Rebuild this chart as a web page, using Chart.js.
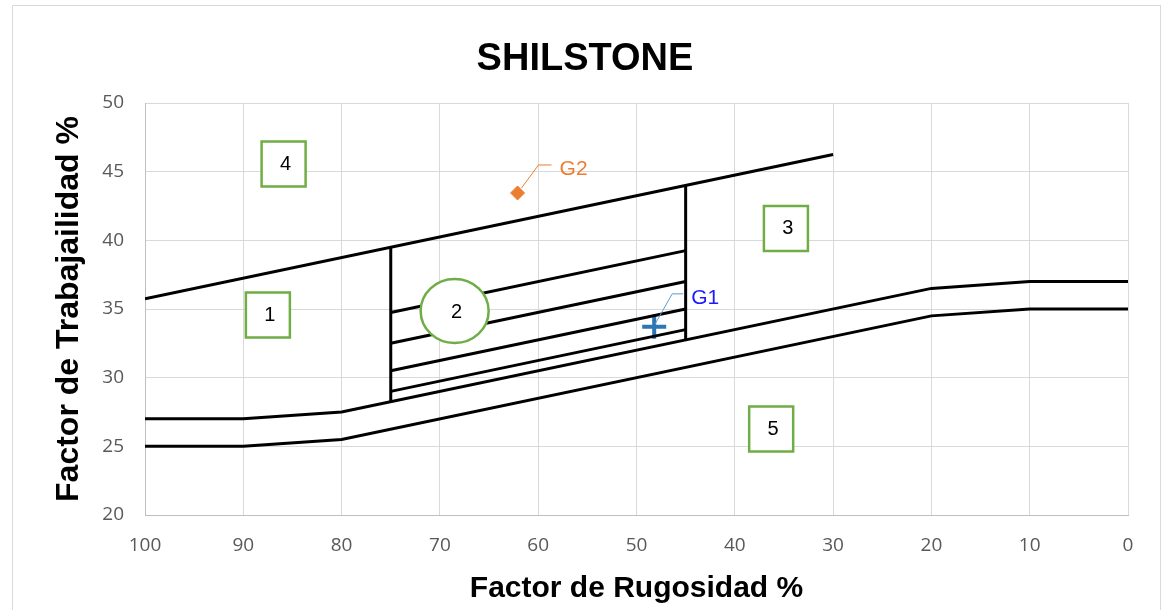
<!DOCTYPE html>
<html>
<head>
<meta charset="utf-8">
<script src="https://cdn.jsdelivr.net/npm/chart.js@4/dist/chart.umd.min.js"></script>
<style>
  html, body { margin: 0; padding: 0; background: #fff; }
  #wrap { position: relative; width: 1162px; height: 610px; overflow: hidden; }
  #frame { position: absolute; left: 12px; top: 5px; width: 1147px; height: 640px; border: 1px solid #d9d9d9; pointer-events: none; }
  canvas { position: absolute; left: 0; top: 0; }
</style>
</head>
<body>
<div id="wrap">
  <canvas id="chart" width="1162" height="610"></canvas>
  <div id="frame"></div>
</div>
<script>
// --- dati ---
const chartTitle = "SHILSTONE";
const xTicks = [100, 90, 80, 70, 60, 50, 40, 30, 20, 10, 0];
const yTicks = [20, 25, 30, 35, 40, 45, 50];

// curve di confine (zona 5 / zona 3)
const curveX = [100, 90, 80, 20, 10, 0];
const upperCurveY = [27, 27, 27.5, 36.5, 37, 37];
const lowerCurveY = [25, 25, 25.5, 34.5, 35, 35];

// retta superiore (limite zona 4)
const topLineX = [100, 30];
const topLineY = [35.75, 46.25];

// zona 2: due verticali e quattro fasce interne
const zoneX = [75, 45];
const divider75Y = [28.25, 39.5];
const divider45Y = [32.75, 44];
const bandStartY = [34.75, 32.5, 30.5, 29];
const bandEndY = [39.25, 37, 35, 33.5];

// punti campione
const sampleNames = ["G1", "G2"];
const sampleX = [48.2, 62.1];
const sampleY = [33.7, 43.45];

// etichette delle zone
const regionNames = ["1", "2", "3", "4", "5"];
const regionX = [87.5, 68.5, 34.8, 85.9, 36.3];
const regionY = [34.6, 34.85, 40.9, 45.6, 26.3];

const toPts = (xs, ys) => xs.map((x, i) => ({ x, y: ys[i] }));

const lineStyle = { showLine: true, borderColor: "#000", borderWidth: 3, pointRadius: 0, tension: 0, fill: false };

const datasets = [
  Object.assign({ data: toPts(curveX, upperCurveY) }, lineStyle),
  Object.assign({ data: toPts(curveX, lowerCurveY) }, lineStyle),
  Object.assign({ data: toPts(topLineX, topLineY) }, lineStyle),
  Object.assign({ data: toPts([zoneX[0], zoneX[0]], divider75Y) }, lineStyle),
  Object.assign({ data: toPts([zoneX[1], zoneX[1]], divider45Y) }, lineStyle)
];
bandStartY.forEach((y0, i) => {
  datasets.push(Object.assign({ data: toPts(zoneX, [y0, bandEndY[i]]) }, lineStyle));
});
// G1: croce blu, G2: rombo arancione
datasets.push({ data: [{ x: sampleX[0], y: sampleY[0] }], pointStyle: "cross", pointRadius: 12, borderColor: "#2e75b6", borderWidth: 4, showLine: false });
datasets.push({ data: [{ x: sampleX[1], y: sampleY[1] }], pointStyle: "rectRot", pointRadius: 7, backgroundColor: "#ed7d31", borderColor: "#ed7d31", borderWidth: 1, showLine: false });

// titolo disegnato a mano: in Excel è centrato sull'intera area del grafico
const titlePlugin = {
  id: "manualTitle",
  afterDraw(chart) {
    const { ctx } = chart;
    ctx.save();
    ctx.fillStyle = "#000";
    ctx.font = "bold 38px 'Liberation Sans', Arial, sans-serif";
    ctx.textAlign = "center";
    ctx.textBaseline = "middle";
    ctx.fillText(chartTitle, 585, 60);
    ctx.restore();
  }
};

// etichette G1/G2 con linea di richiamo, e riquadri numerati delle zone
const labelsPlugin = {
  id: "labels",
  afterDatasetsDraw(chart) {
    const { ctx, scales: { x, y } } = chart;
    ctx.save();
    const leaderColors = ["#5b9bd5", "#ed7d31"];
    const textColors = ["#1a1aff", "#ed7d31"];
    const leaders = [[[1, -3], [18, -33], [29, -33]], [[4, -5], [21, -28], [34, -28]]];
    sampleNames.forEach((name, i) => {
      const px = x.getPixelForValue(sampleX[i]);
      const py = y.getPixelForValue(sampleY[i]);
      const l = leaders[i];
      ctx.strokeStyle = leaderColors[i];
      ctx.lineWidth = 1;
      ctx.beginPath();
      ctx.moveTo(px + l[0][0], py + l[0][1]);
      ctx.lineTo(px + l[1][0], py + l[1][1]);
      ctx.lineTo(px + l[2][0], py + l[2][1]);
      ctx.stroke();
      ctx.fillStyle = textColors[i];
      ctx.font = "21px 'Liberation Sans', Arial, sans-serif";
      ctx.textAlign = "left";
      ctx.textBaseline = "middle";
      ctx.fillText(name, px + l[2][0] + 8, py + l[2][1] + 4);
    });

    regionNames.forEach((name, i) => {
      const px = x.getPixelForValue(regionX[i]);
      const py = y.getPixelForValue(regionY[i]);
      ctx.fillStyle = "#fff";
      ctx.strokeStyle = "#70ad47";
      ctx.lineWidth = 2.5;
      ctx.beginPath();
      if (name === "2") {
        ctx.ellipse(px, py, 34, 32, 0, 0, Math.PI * 2);
      } else {
        ctx.rect(px - 22, py - 22, 44, 45);
      }
      ctx.fill();
      ctx.stroke();
      ctx.fillStyle = "#000";
      ctx.font = "20px 'Liberation Sans', Arial, sans-serif";
      ctx.textAlign = "center";
      ctx.textBaseline = "middle";
      ctx.fillText(name, px + 2, py + 1);
    });
    ctx.restore();
  }
};

new Chart(document.getElementById("chart"), {
  type: "scatter",
  data: { datasets },
  plugins: [labelsPlugin, titlePlugin],
  options: {
    responsive: false,
    animation: false,
    layout: { padding: { left: 20, right: 34, top: 103, bottom: 0 } },
    plugins: {
      legend: { display: false },
      tooltip: { enabled: false },
      title: { display: false }
    },
    scales: {
      x: {
        type: "linear",
        reverse: true,
        min: 0, max: 100,
        afterBuildTicks: (s) => { s.ticks = xTicks.map(v => ({ value: v })); },
        afterFit: (s) => { s.height = 95; },
        grid: { color: "#d9d9d9", lineWidth: 1, drawTicks: false },
        border: { color: "#bfbfbf" },
        ticks: { color: "#595959", padding: 19, font: { family: "'Open Sans', sans-serif", size: 19 } },
        title: {
          display: true,
          text: "Factor de Rugosidad %",
          color: "#000",
          font: { family: "'Liberation Sans', Arial, sans-serif", size: 30, weight: "bold" },
          padding: { top: 0, bottom: 3 }
        }
      },
      y: {
        type: "linear",
        min: 20, max: 50,
        afterBuildTicks: (s) => { s.ticks = yTicks.map(v => ({ value: v })); },
        afterFit: (s) => { s.width = 125; },
        grid: { color: "#d9d9d9", lineWidth: 1, drawTicks: false },
        border: { color: "#bfbfbf" },
        ticks: { color: "#595959", padding: 21, font: { family: "'Open Sans', sans-serif", size: 19 } },
        title: {
          display: true,
          text: "Factor de Trabajailidad %",
          color: "#000",
          font: { family: "'Liberation Sans', Arial, sans-serif", size: 32, weight: "bold" },
          padding: { top: 30, bottom: 0 }
        }
      }
    }
  }
});
</script>
</body>
</html>
